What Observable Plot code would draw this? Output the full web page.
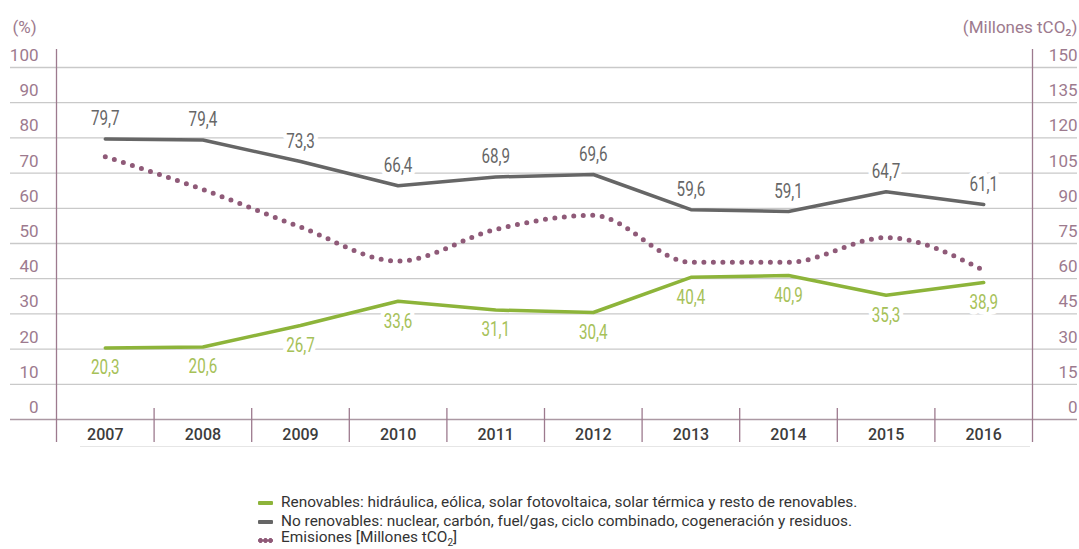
<!DOCTYPE html>
<html>
<head>
<meta charset="utf-8">
<script src="https://cdn.jsdelivr.net/npm/d3@7"></script>
<script src="https://cdn.jsdelivr.net/npm/@observablehq/plot@0.6"></script>
<style>
  html, body { margin: 0; padding: 0; background: #fff; }
  #chart { width: 1079px; }
  .legend { padding: 23px 0 0 258px; font-family: Roboto, sans-serif; font-size: 15.4px; color: #333; }
  .legend .row { height: 19px; line-height: 19px; display: flex; align-items: center; }
  .legend .sw { width: 15px; margin-right: 8px; display: inline-block; }
  .legend .solid { height: 4px; border-radius: 1px; }
  .legend .dots { height: 5px; background-image: radial-gradient(circle, #8f5a78 2.2px, transparent 2.4px); background-size: 5px 5px; background-repeat: repeat-x; }
</style>
</head>
<body>
<div id="chart"></div>
<script>
const years = [2007, 2008, 2009, 2010, 2011, 2012, 2013, 2014, 2015, 2016];
const renovables = [20.3, 20.6, 26.7, 33.6, 31.1, 30.4, 40.4, 40.9, 35.3, 38.9];
const noRenovables = [79.7, 79.4, 73.3, 66.4, 68.9, 69.6, 59.6, 59.1, 64.7, 61.1];
const emisiones = [112, 98, 82, 67.5, 81, 87, 67, 67, 77.5, 63.5];
const leftTicks = [0, 10, 20, 30, 40, 50, 60, 70, 80, 90, 100];
const leftTickLabels = ["0", "10", "20", "30", "40", "50", "60", "70", "80", "90", "100"];
const rightTickLabels = ["0", "15", "30", "45", "60", "75", "90", "105", "120", "135", "150"];
const legendLabels = [
  "Renovables: hidráulica, eólica, solar fotovoltaica, solar térmica y resto de renovables.",
  "No renovables: nuclear, carbón, fuel/gas, ciclo combinado, cogeneración y residuos.",
  "Emisiones [Millones tCO\u2082]"
];

const GREEN = "#8db43a", GREEN_TXT = "#a6c158", GRAY = "#666666", MAUVE = "#8f5a78", AXIS = "#9d7a8e", GRID = "#c9c9c9";
const emisRatio = 150 / 100;
const rows = years.map((year, i) => ({year, ren: renovables[i], non: noRenovables[i], emi: emisiones[i]}));
const fmt = v => v.toFixed(1).replace(".", ",");

// horizontally condensed text (no condensed font installed)
const K = 0.76;
const condensed = (index, scales, values, dims, ctx, next) => {
  const g = next(index, scales, {...values, x: Array.from(values.x, v => v / K)}, dims, ctx);
  const t = g.getAttribute("transform") || "";
  g.setAttribute("transform", `${t} scale(${K},1)`);
  return g;
};

const plot = Plot.plot({
  width: 1079,
  height: 470,
  marginLeft: 56,
  marginRight: 47,
  marginTop: 67,
  marginBottom: 51,
  style: {fontFamily: "Roboto, sans-serif", background: "#fff"},
  x: {domain: [2006.5, 2016.5], axis: null},
  y: {domain: [0, 100], axis: null},
  marks: [
    // gridlines
    Plot.ruleY(leftTicks.slice(1), {stroke: GRID, strokeWidth: 1.3, insetLeft: -46, insetRight: -45}),
    Plot.ruleY([0], {stroke: "#ab98a3", strokeWidth: 1.3, insetLeft: -46, insetRight: -45}),
    Plot.ruleY([0], {stroke: "#e6e6e6", strokeWidth: 1, dy: 27, insetLeft: 24, insetRight: 2}),
    // frame verticals
    Plot.ruleX([years[0] - 0.5, years[years.length - 1] + 0.5], {stroke: AXIS, strokeWidth: 1.3, insetTop: -18, insetBottom: -23}),
    // year separators
    Plot.ruleX(years.slice(1), {x: d => d - 0.5, y1: 0, y2: 0, stroke: AXIS, strokeWidth: 1.3, insetTop: -11, insetBottom: -23}),
    // axes
    Plot.axisX(years, {anchor: "bottom", label: null, tickSize: 0, tickPadding: 9, tickFormat: d => String(d), fontSize: 16, fontWeight: 500, fill: "#3c3c3c"}),
    Plot.axisY(leftTicks, {anchor: "left", label: null, tickSize: 0, tickPadding: 18, dy: -12, tickFormat: (d, i) => leftTickLabels[i], fontSize: 17, fill: AXIS}),
    Plot.axisY(leftTicks, {anchor: "right", label: null, tickSize: 0, tickPadding: 45, textAnchor: "end", dy: -12, tickFormat: (d, i) => rightTickLabels[i], fontSize: 17, fill: AXIS}),
    Plot.text(["(%)"], {frameAnchor: "top-left", dx: -44, dy: -47, textAnchor: "start", fontSize: 17, fill: AXIS}),
    Plot.text(["(Millones tCO\u2082)"], {frameAnchor: "top-right", dx: 45, dy: -47, textAnchor: "end", fontSize: 17, fill: AXIS}),
    // value labels
    Plot.text(rows, {x: "year", y: "non", text: d => fmt(d.non), dy: -20, fontSize: 20, fill: GRAY, stroke: "#fff", strokeWidth: 11, render: condensed}),
    Plot.text(rows, {x: "year", y: "ren", text: d => fmt(d.ren), dy: 20, fontSize: 20, fill: GREEN_TXT, stroke: "#fff", strokeWidth: 11, render: condensed}),
    // series
    Plot.line(rows, {x: "year", y: d => d.emi / emisRatio, stroke: MAUVE, strokeWidth: 5, strokeDasharray: "0 9.5", strokeLinecap: "round", curve: "monotone-x"}),
    Plot.line(rows, {x: "year", y: "non", stroke: GRAY, strokeWidth: 3.5}),
    Plot.line(rows, {x: "year", y: "ren", stroke: GREEN, strokeWidth: 3.5})
  ]
});
document.getElementById("chart").append(plot);

const legend = document.createElement("div");
legend.className = "legend";
const swatches = [`<span class="sw solid" style="background:${GREEN}"></span>`, `<span class="sw solid" style="background:${GRAY}"></span>`, `<span class="sw dots"></span>`];
legend.innerHTML = legendLabels.map((t, i) => `<div class="row">${swatches[i]}<span>${t.replace("\u2082", "<sub style='font-size:10px'>2</sub>")}</span></div>`).join("");
document.getElementById("chart").append(legend);
</script>
</body>
</html>
